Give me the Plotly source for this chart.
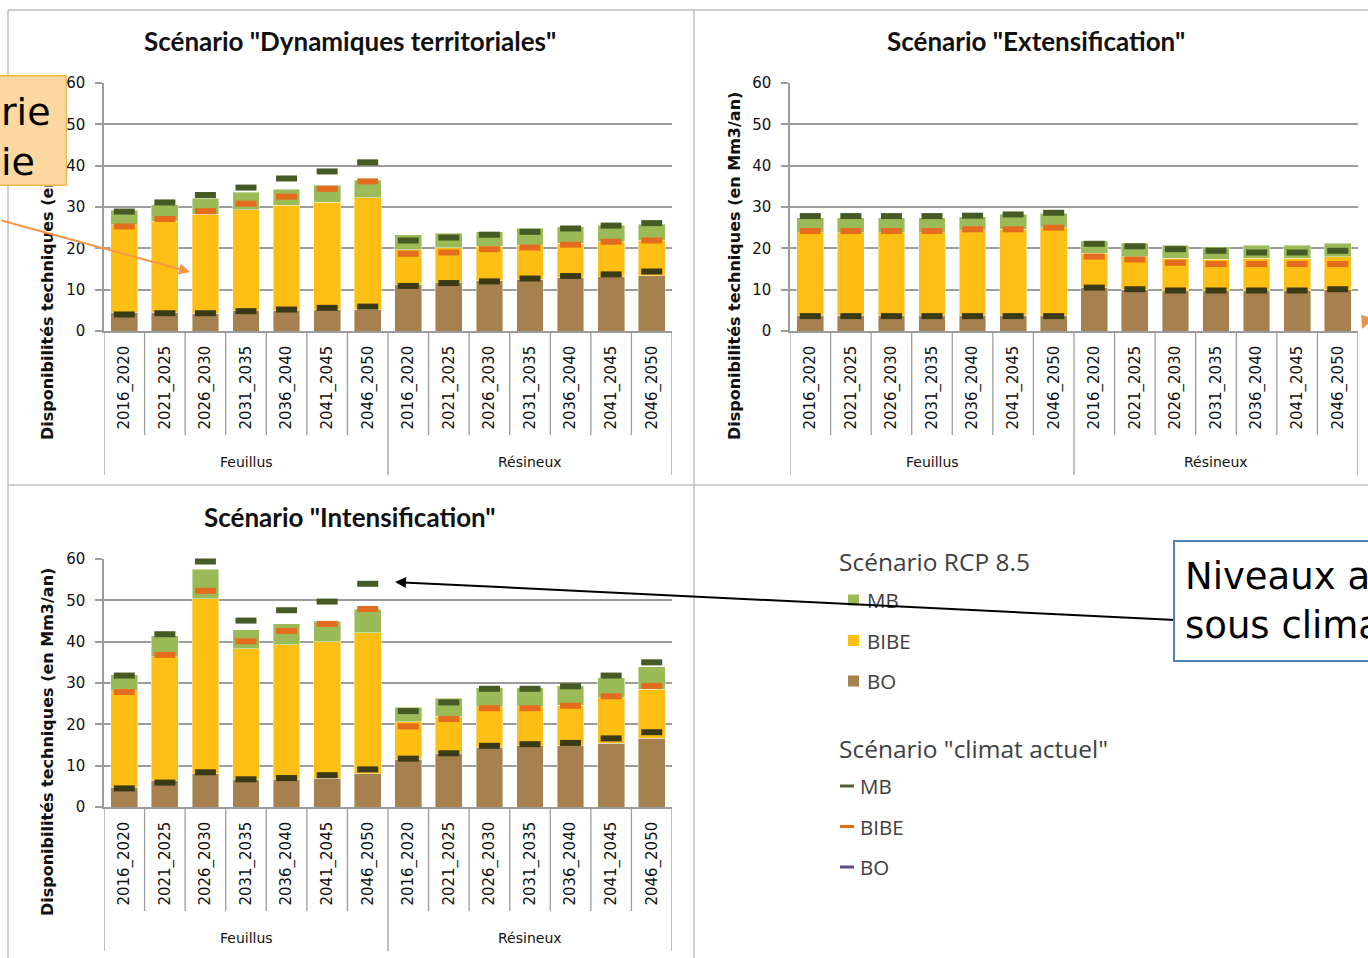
import plotly.graph_objects as go

W, H = 1368, 958

periods = ["2016_2020", "2021_2025", "2026_2030", "2031_2035", "2036_2040", "2041_2045", "2046_2050"]
groups = ["Feuillus", "Résineux"]
series = ["MB", "BIBE", "BO"]

# ---- Scénario "Dynamiques territoriales" (Feuillus x7 then Résineux x7) ----
dt_rcp_bo   = [4.5, 4.5, 4.3, 4.9, 4.9, 5.2, 5.2, 11.2, 11.7, 12.1, 12.5, 12.9, 13.1, 13.4]
dt_rcp_bibe = [21.2, 22.1, 23.9, 24.4, 25.5, 25.9, 27.0, 8.4, 8.4, 8.4, 8.3, 8.3, 8.5, 8.6]
dt_rcp_mb   = [3.5, 4.0, 3.9, 4.3, 3.9, 4.2, 4.3, 3.7, 3.6, 3.5, 4.0, 4.0, 4.0, 3.8]
dt_ca_bo    = [4.0, 4.3, 4.3, 4.8, 5.2, 5.6, 5.9, 10.9, 11.6, 12.0, 12.7, 13.3, 13.7, 14.4]
dt_ca_bibe  = [21.3, 22.8, 24.7, 26.0, 27.3, 28.8, 30.3, 7.8, 7.4, 7.8, 7.5, 7.6, 7.9, 7.5]
dt_ca_mb    = [3.6, 4.0, 3.9, 3.9, 4.4, 4.2, 4.6, 3.2, 3.6, 3.5, 3.8, 3.9, 3.9, 4.2]

# ---- Scénario "Extensification" ----
ext_rcp_bo   = [3.8, 3.8, 3.8, 3.8, 3.8, 3.8, 3.8, 10.6, 10.1, 9.8, 9.7, 9.8, 9.8, 10.0]
ext_rcp_bibe = [20.0, 20.0, 20.0, 20.0, 20.4, 20.8, 21.2, 8.2, 7.9, 7.8, 7.6, 7.8, 7.8, 8.0]
ext_rcp_mb   = [3.6, 3.6, 3.6, 3.6, 3.5, 3.6, 3.5, 3.0, 3.2, 3.2, 3.1, 3.2, 3.2, 3.2]
ext_ca_bo    = [3.6, 3.6, 3.6, 3.6, 3.6, 3.6, 3.6, 10.5, 10.1, 9.8, 9.8, 9.8, 9.8, 10.1]
ext_ca_bibe  = [20.6, 20.6, 20.6, 20.6, 21.0, 21.0, 21.4, 7.5, 7.2, 6.7, 6.4, 6.4, 6.4, 6.1]
ext_ca_mb    = [3.6, 3.6, 3.6, 3.6, 3.3, 3.6, 3.6, 3.1, 3.2, 3.3, 3.2, 2.8, 2.8, 3.2]

# ---- Scénario "Intensification" ----
int_rcp_bo   = [4.8, 6.3, 8.0, 6.7, 6.7, 7.0, 8.0, 11.6, 13.0, 14.5, 14.8, 14.8, 15.4, 16.6]
int_rcp_bibe = [23.3, 30.1, 42.4, 31.6, 32.6, 33.0, 34.1, 9.0, 9.0, 9.8, 9.5, 9.8, 11.0, 11.9]
int_rcp_mb   = [3.9, 5.0, 7.1, 4.6, 5.0, 5.0, 5.8, 3.5, 4.3, 4.6, 4.6, 4.7, 4.9, 5.4]
int_ca_bo    = [4.5, 5.9, 8.4, 6.7, 7.0, 7.7, 9.1, 11.7, 13.0, 14.8, 15.2, 15.5, 16.6, 18.1]
int_ca_bibe  = [23.3, 30.9, 43.9, 33.4, 35.6, 36.6, 38.8, 7.8, 8.3, 9.1, 8.7, 9.0, 10.2, 11.2]
int_ca_mb    = [4.0, 5.0, 7.1, 5.0, 5.0, 5.4, 6.1, 3.7, 4.0, 4.7, 4.7, 4.7, 5.0, 5.7]

# ---------------- styles ----------------
C_MB, C_BIBE, C_BO = "#9BBB59", "#FDBF14", "#A6814F"
M_MB, M_BIBE, M_BO = "#465A26", "#E46C1E", "#3B3A17"
L_MB, L_BIBE, L_BO = "#4F6228", "#E46C0A", "#604A7B"
GRID = "#9C9C9C"
FRAME = "#BFBFBF"
TICKFONT = "DejaVu Sans"
TITLEFONT = "Lato"
LEGF = "Open Sans"


def pxx(p):
    return p / W


def pxy(p):
    return 1 - p / H


panels = [
    dict(title='Scénario "Dynamiques territoriales"', bo=dt_rcp_bo, bibe=dt_rcp_bibe, mb=dt_rcp_mb,
         cbo=dt_ca_bo, cbibe=dt_ca_bibe, cmb=dt_ca_mb,
         xl=104, xr=672, yb=331, yt=83, tx=350, ty=41, ytx=47, yty=266),
    dict(title='Scénario "Extensification"', bo=ext_rcp_bo, bibe=ext_rcp_bibe, mb=ext_rcp_mb,
         cbo=ext_ca_bo, cbibe=ext_ca_bibe, cmb=ext_ca_mb,
         xl=790, xr=1358, yb=331, yt=83, tx=1036, ty=41, ytx=734, yty=266),
    dict(title='Scénario "Intensification"', bo=int_rcp_bo, bibe=int_rcp_bibe, mb=int_rcp_mb,
         cbo=int_ca_bo, cbibe=int_ca_bibe, cmb=int_ca_mb,
         xl=104, xr=672, yb=807, yt=559, tx=350, ty=517, ytx=47, yty=742),
]

fig = go.Figure()
xs = list(range(len(periods) * len(groups)))
ticktext = periods * len(groups)
shapes = []
annotations = []


def text_ann(text, x, y, size, family, color="#111", xanchor="center", **kw):
    d = dict(text=text, xref="paper", yref="paper", x=pxx(x), y=pxy(y), xanchor=xanchor,
             yanchor="middle", showarrow=False, font=dict(family=family, size=size, color=color))
    d.update(kw)
    return d


for i, p in enumerate(panels, start=1):
    sx = "" if i == 1 else str(i)
    xa, ya = "x" + sx, "y" + sx
    for name, vals, col in (("BO", p["bo"], C_BO), ("BIBE", p["bibe"], C_BIBE), ("MB", p["mb"], C_MB)):
        fig.add_trace(go.Bar(x=xs, y=vals, name=name,
                             marker=dict(color=col, line=dict(width=0.6, color="rgba(255,255,255,0.7)")),
                             xaxis=xa, yaxis=ya, showlegend=False))
    cum_bo = list(p["cbo"])
    cum_bibe = [a + b for a, b in zip(p["cbo"], p["cbibe"])]
    cum_mb = [a + b for a, b in zip(cum_bibe, p["cmb"])]
    for name, vals, col in (("BO", cum_bo, M_BO), ("BIBE", cum_bibe, M_BIBE), ("MB", cum_mb, M_MB)):
        fig.add_trace(go.Scatter(x=xs, y=vals, mode="markers", name=name + " (climat actuel)",
                                 marker=dict(symbol="line-ew", size=15, color=col,
                                             line=dict(color=col, width=6)),
                                 xaxis=xa, yaxis=ya, showlegend=False, cliponaxis=False))
    fig.layout["xaxis" + sx] = dict(
        domain=[pxx(p["xl"]), pxx(p["xr"])], anchor=ya, range=[-0.5, len(xs) - 0.5],
        tickmode="array", tickvals=xs, ticktext=ticktext, tickangle=-90,
        tickfont=dict(family=TICKFONT, size=15, color="#111"), ticks="",
        showline=True, linecolor=GRID, linewidth=1.5, showgrid=False, zeroline=False,
        ticklabelstandoff=7, automargin=False)
    fig.layout["yaxis" + sx] = dict(
        domain=[pxy(p["yb"]), pxy(p["yt"])], anchor=xa, range=[0, 60], dtick=10,
        showgrid=True, gridcolor=GRID, gridwidth=1.5, showline=True, linecolor=GRID, linewidth=1.5,
        ticks="outside", ticklen=7, tickcolor=GRID, tickwidth=1.5,
        tickfont=dict(family=TICKFONT, size=15, color="#111"), zeroline=False,
        ticklabelstandoff=7, automargin=False)
    # category boundaries and group dividers
    for k in range(len(xs) + 1):
        long = (k % len(periods) == 0)
        shapes.append(dict(type="line", xref=xa, yref="paper", x0=k - 0.5, x1=k - 0.5,
                           y0=pxy(p["yb"]), y1=pxy(p["yb"] + (144 if long else 104)),
                           line=dict(color=GRID, width=1.3)))
    for g, gname in enumerate(groups):
        annotations.append(dict(text=gname, xref=xa, yref="paper",
                                x=g * len(periods) + (len(periods) - 1) / 2, y=pxy(p["yb"] + 131),
                                xanchor="center", yanchor="middle", showarrow=False,
                                font=dict(family=TICKFONT, size=14, color="#111")))
    annotations.append(text_ann("<b>" + p["title"] + "</b>", p["tx"], p["ty"], 26, TITLEFONT))
    annotations.append(text_ann("<b>Disponibilités techniques (en Mm3/an)</b>", p["ytx"], p["yty"], 16,
                                TICKFONT, textangle=-90))

# panel frames
for (x0, y0, x1, y1) in [(8, 10, 1368, 10), (8, 10, 8, 958), (694, 10, 694, 958), (8, 485, 1368, 485)]:
    shapes.append(dict(type="line", xref="paper", yref="paper", x0=pxx(x0), y0=pxy(y0),
                       x1=pxx(x1), y1=pxy(y1), line=dict(color=FRAME, width=1.5)))

# legend (bottom-right)
annotations.append(text_ann("Scénario RCP 8.5", 837, 561, 24.5, LEGF, "#404040", xanchor="left"))
for j, (name, col) in enumerate((("MB", C_MB), ("BIBE", C_BIBE), ("BO", C_BO))):
    yc = 600 + j * 40.5
    shapes.append(dict(type="rect", xref="paper", yref="paper", x0=pxx(848), x1=pxx(859),
                       y0=pxy(yc - 5.5), y1=pxy(yc + 5.5), fillcolor=col, line=dict(width=0)))
    annotations.append(text_ann(name, 865, yc, 20.5, LEGF, "#404040", xanchor="left"))
annotations.append(text_ann('Scénario "climat actuel"', 837, 748, 24.5, LEGF, "#404040", xanchor="left"))
for j, (name, col) in enumerate((("MB", L_MB), ("BIBE", L_BIBE), ("BO", L_BO))):
    yc = 786 + j * 40.5
    shapes.append(dict(type="line", xref="paper", yref="paper", x0=pxx(840), x1=pxx(854),
                       y0=pxy(yc), y1=pxy(yc), line=dict(color=col, width=3)))
    annotations.append(text_ann(name, 858, yc, 20.5, LEGF, "#404040", xanchor="left"))

# callout arrows
annotations.append(dict(text="", xref="paper", yref="paper", x=pxx(190), y=pxy(272), ax=-205, ay=-52,
                        showarrow=True, arrowhead=2, arrowsize=1.1, arrowwidth=2, arrowcolor="#F79646"))
annotations.append(dict(text="", xref="paper", yref="paper", x=pxx(395), y=pxy(582), ax=782, ay=38,
                        showarrow=True, arrowhead=2, arrowsize=1.1, arrowwidth=2, arrowcolor="#000000"))
annotations.append(dict(text="", xref="paper", yref="paper", x=pxx(1362), y=pxy(329), ax=40, ay=-14,
                        showarrow=True, arrowhead=2, arrowsize=1.3, arrowwidth=2, arrowcolor="#E8944A"))

# callout boxes (cut by the page edges, as in the source slide)
annotations.append(dict(text=" ", xref="paper", yref="paper", x=pxx(-4), y=pxy(130),
                        xanchor="left", yanchor="middle", width=64, height=104,
                        showarrow=False, bgcolor="#FDD9A1", bordercolor="#F7B94D", borderwidth=1.5, borderpad=2,
                        font=dict(family=TICKFONT, size=12, color="#000")))
annotations.append(text_ann("rie", -1, 112, 38, TICKFONT, "#000", xanchor="left"))
annotations.append(text_ann("ie", -1, 162, 38, TICKFONT, "#000", xanchor="left"))
annotations.append(dict(text="Niveaux a<br>sous clima", xref="paper", yref="paper", x=pxx(1173), y=pxy(601),
                        xanchor="left", yanchor="middle", width=300, height=98, align="left", valign="middle",
                        showarrow=False, bgcolor="#FFFFFF", bordercolor="#4F81BD", borderwidth=2, borderpad=10,
                        font=dict(family=TICKFONT, size=37, color="#000")))

fig.update_layout(width=W, height=H, autosize=False,
                  margin=dict(l=0, r=0, t=0, b=0, pad=0, autoexpand=False),
                  paper_bgcolor="white", plot_bgcolor="white", barmode="stack", bargap=0.34,
                  showlegend=False, shapes=shapes, annotations=annotations)

pin_js = ("var gd=document.getElementById('{plot_id}');"
          "document.documentElement.style.overflow='hidden';"
          "document.body.style.margin='0';document.body.style.overflow='hidden';"
          "gd.style.position='fixed';gd.style.left='0px';gd.style.top='0px';")

fig.write_html("out.html", post_script=pin_js, config=dict(displayModeBar=False))
